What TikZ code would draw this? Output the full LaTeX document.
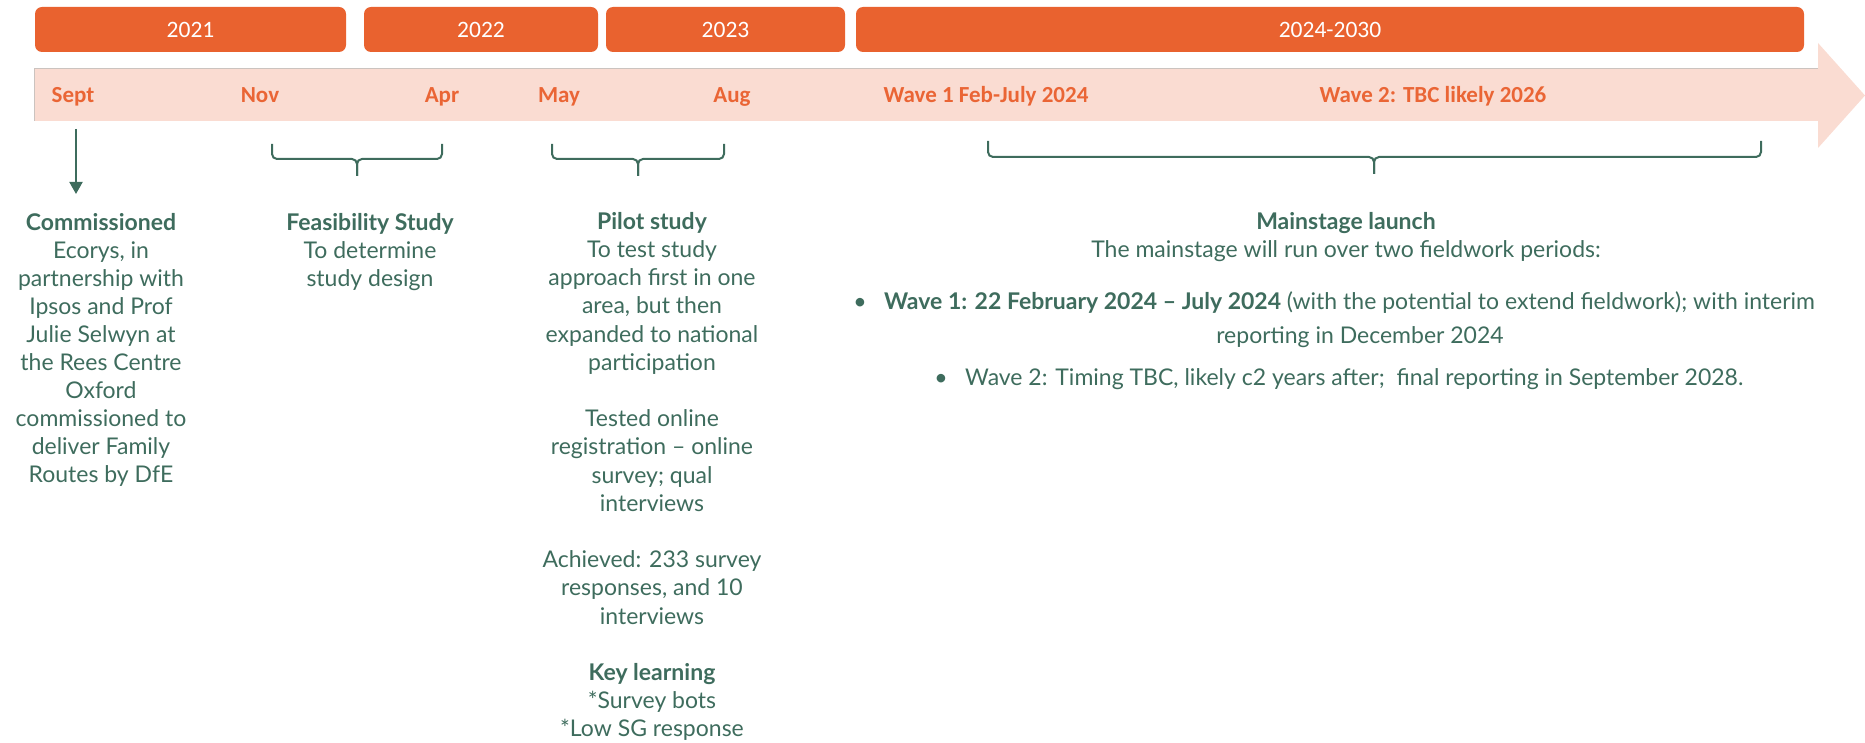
\documentclass[tikz,border=0pt]{standalone}
\usepackage{fontspec}
\setmainfont{Lato}
\newfontfamily\calfont{Carlito}
\usetikzlibrary{arrows.meta}

\definecolor{yearorange}{HTML}{E9622F}
\definecolor{bandfill}{HTML}{FADCD2}
\definecolor{bandedge}{HTML}{CBC3BF}
\definecolor{monthorange}{HTML}{EA6535}
\definecolor{teal}{HTML}{3E6C5D}

\begin{document}
\begin{tikzpicture}[x=1pt,y=-1pt,
  yearbox/.style={fill=yearorange, rounded corners=7pt, inner sep=0pt,
    minimum height=45pt, text=white, font=\calfont\fontsize{23.5}{28}\selectfont},
  month/.style={anchor=mid, inner sep=0pt, text=monthorange,
    font=\calfont\bfseries\fontsize{23}{28}\selectfont},
  body/.style={inner sep=0pt, text=teal, font=\fontsize{23}{28}\selectfont},
  block/.style={body, anchor=north, align=center},
  line/.style={body, anchor=mid},
  spanbrace/.style={draw=teal, line width=2pt, rounded corners=5pt},
  pointer/.style={draw=teal, line width=2pt, -{Triangle[length=12pt,width=13pt]}},
]
\useasboundingbox (0,0) rectangle (1865,743);

% year headers
\node[yearbox, minimum width=311pt] (y2021) at (190.5,29.5) {2021};
\node[yearbox, minimum width=234pt] (y2022) at (481,29.5) {2022};
\node[yearbox, minimum width=239pt] (y2023) at (725.5,29.5) {2023};
\node[yearbox, minimum width=948pt] (y2024) at (1330,29.5) {2024-2030};

% timeline band with arrow head
\fill[bandfill] (34,69) -- (1818,69) -- (1818,43) -- (1865,95.5)
  -- (1818,148) -- (1818,121) -- (34,121) -- cycle;
\draw[bandedge, line width=1pt] (34,121) -- (34,69) -- (1818,69);

% months on the band
\node[month] (sept) at (73,100) {Sept};
\node[month] (nov) at (260,100) {Nov};
\node[month] (apr) at (442,100) {Apr};
\node[month] (may) at (559,100) {May};
\node[month] (aug) at (732,100) {Aug};
\node[month] (wave1) at (986,100) {Wave 1 Feb-July 2024};
\node[month] (wave2) at (1433,100) {Wave 2: TBC likely 2026};

% pointer under Sept
\coordinate (pfrom) at (76,129);
\coordinate (pto) at (76,194);
\draw[pointer] (pfrom) -- (pto);

% braces spanning the phases
\draw[spanbrace] (272,144) -- (272,159) -- (357,159) -- (357,176);
\draw[spanbrace] (442,144) -- (442,159) -- (357,159) -- (357,176);
\draw[spanbrace] (552,144) -- (552,159) -- (638,159) -- (638,176);
\draw[spanbrace] (724,144) -- (724,159) -- (638,159) -- (638,176);
\draw[spanbrace] (988,141) -- (988,157) -- (1374,157) -- (1374,174);
\draw[spanbrace] (1761,141) -- (1761,157) -- (1374,157) -- (1374,174);

% phase descriptions
\node[block] (commissioned) at (101,213) {\bfseries Commissioned\\
  Ecorys, in\\partnership with\\Ipsos and Prof\\Julie Selwyn at\\
  the Rees Centre\\Oxford\\commissioned to\\deliver Family\\Routes by DfE};

\node[block] (feasibility) at (370,213) {\bfseries Feasibility Study\\
  To determine\\study design};

\node[block, font=\fontsize{23}{28.2}\selectfont] (pilot) at (652,212) {\bfseries Pilot study\\
  To test study\\approach first in one\\area, but then\\
  expanded to national\\participation\\[28.2pt]
  Tested online\\registration – online\\survey; qual\\interviews\\[28.2pt]
  Achieved: 233 survey\\responses, and 10\\interviews\\[28.2pt]
  {\bfseries Key learning}\\*Survey bots\\*Low SG response};

\node[block] (mainstage) at (1346,212) {\bfseries Mainstage launch\\
  The mainstage will run over two fieldwork periods:};

\node[line] (bullet1) at (860,307) {\textbullet};
\node[line, anchor=mid west] (wave1text) at (884,307)
  {\textbf{Wave 1: 22 February 2024 – July 2024} (with the potential to extend fieldwork); with interim};
\node[line] (wave1more) at (1360,341) {reporting in December 2024};
\node[line] (bullet2) at (941,383) {\textbullet};
\node[line, anchor=mid west] (wave2text) at (965,383)
  {Wave 2: Timing TBC, likely c2 years after;\ \ final reporting in September 2028.};
\end{tikzpicture}
\end{document}
